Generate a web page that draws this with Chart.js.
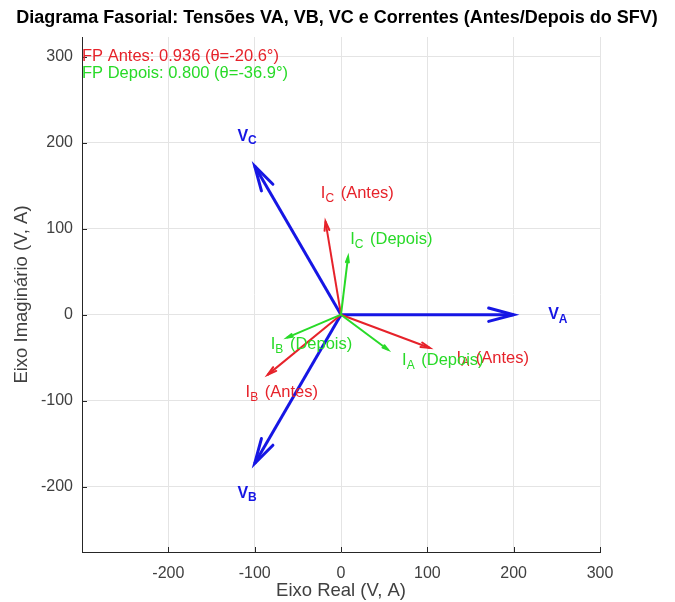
<!DOCTYPE html>
<html>
<head>
<meta charset="utf-8">
<script src="https://cdn.jsdelivr.net/npm/chart.js@4.4.0/dist/chart.umd.min.js"></script>
<style>
  html, body { margin: 0; padding: 0; background: #fff; }
  #wrap { width: 675px; height: 602px; }
</style>
</head>
<body>
<div id="wrap"><canvas id="chart" width="675" height="602"></canvas></div>
<script>
// phasor tips (real, imag)
const phases = ["A", "B", "C"];
const voltX = [200, -100, -100];
const voltY = [0, -173, 173];
const antesX = [103, -85, -18];
const antesY = [-38.7, -70, 108.5];
const depoisX = [54.4, -62.6, 8.2];
const depoisY = [-40.8, -26.7, 67.5];

const xTicks = [-200, -100, 0, 100, 200, 300];
const yTicks = [-200, -100, 0, 100, 200, 300];

const titleText = "Diagrama Fasorial: Tensões VA, VB, VC e Correntes (Antes/Depois do SFV)";
const fpAntes = "FP Antes: 0.936 (θ=-20.6°)";
const fpDepois = "FP Depois: 0.800 (θ=-36.9°)";

const RED = "rgb(230,34,42)";
const GREEN = "rgb(40,218,40)";
const BLUE = "rgb(22,22,228)";
const FONT = "'Liberation Sans', Arial, sans-serif";

// ----------------- Datasets -----------------
const groups = [
  { xs: voltX, ys: voltY, color: BLUE, width: 3, head: 0.15, order: 3, kind: "V", suffix: "", factor: 1.2 },
  { xs: antesX, ys: antesY, color: RED, width: 2, head: 0.1, order: 2, kind: "I", suffix: " (Antes)", factor: 1.3 },
  { xs: depoisX, ys: depoisY, color: GREEN, width: 2, head: 0.1, order: 1, kind: "I", suffix: " (Depois)", factor: 1.3 }
];

const datasets = [];
groups.forEach(g => {
  phases.forEach((p, i) => {
    datasets.push({
      data: [{ x: 0, y: 0 }, { x: g.xs[i], y: g.ys[i] }],
      showLine: true,
      borderColor: g.color,
      borderWidth: g.width,
      pointRadius: 0,
      order: g.order,
      group: g,
      phase: p
    });
  });
});

// ----------------- Plugins -----------------
const arrowHeads = {
  id: "arrowHeads",
  afterDatasetsDraw(chart) {
    const ctx = chart.ctx;
    chart.data.datasets.forEach((ds, i) => {
      const meta = chart.getDatasetMeta(i);
      const a = meta.data[0], b = meta.data[1];
      const dx = b.x - a.x, dy = b.y - a.y;
      const len = Math.hypot(dx, dy);
      const hl = len * ds.group.head;
      const ang = Math.atan2(dy, dx);
      const spread = 0.26;
      ctx.save();
      ctx.strokeStyle = ds.borderColor;
      ctx.lineWidth = ds.borderWidth;
      ctx.lineCap = "round";
      ctx.beginPath();
      ctx.moveTo(b.x - hl * Math.cos(ang - spread), b.y - hl * Math.sin(ang - spread));
      ctx.lineTo(b.x, b.y);
      ctx.lineTo(b.x - hl * Math.cos(ang + spread), b.y - hl * Math.sin(ang + spread));
      ctx.stroke();
      ctx.restore();
    });
  }
};

function drawSubText(ctx, x, y, main, sub, rest, size, bold, color) {
  const w = bold ? "bold " : "";
  ctx.fillStyle = color;
  ctx.textBaseline = "middle";
  ctx.textAlign = "left";
  ctx.font = w + size + "px " + FONT;
  ctx.fillText(main, x, y);
  let cx = x + ctx.measureText(main).width;
  const ss = Math.round(size * 0.72);
  ctx.font = w + ss + "px " + FONT;
  ctx.fillText(sub, cx, y + size * 0.3);
  cx += ctx.measureText(sub).width;
  if (rest) {
    ctx.font = w + size + "px " + FONT;
    ctx.fillText(rest, cx + 2, y);
  }
}

const labelsPlugin = {
  id: "labelsPlugin",
  afterDraw(chart) {
    const ctx = chart.ctx;
    const xs = chart.scales.x, ys = chart.scales.y;
    ctx.save();
    // title
    ctx.font = "bold 18px " + FONT;
    ctx.fillStyle = "#000";
    ctx.textAlign = "center";
    ctx.textBaseline = "middle";
    ctx.fillText(titleText, 337, 18);

    // inward tick marks
    ctx.strokeStyle = "#262626";
    ctx.lineWidth = 1;
    ctx.beginPath();
    xTicks.forEach(v => {
      const px = Math.round(xs.getPixelForValue(v)) + 0.5;
      ctx.moveTo(px, ys.bottom);
      ctx.lineTo(px, ys.bottom - 5);
    });
    yTicks.forEach(v => {
      const py = Math.round(ys.getPixelForValue(v)) + 0.5;
      ctx.moveTo(xs.left, py);
      ctx.lineTo(xs.left + 5, py);
    });
    ctx.stroke();

    // vector labels
    groups.forEach(g => {
      phases.forEach((p, i) => {
        const px = xs.getPixelForValue(g.xs[i] * g.factor);
        const py = ys.getPixelForValue(g.ys[i] * g.factor);
        if (g.kind === "V") drawSubText(ctx, px, py, "V", p, "", 16, true, g.color);
        else drawSubText(ctx, px, py, "I", p, g.suffix, 16.5, false, g.color);
      });
    });

    // power factor notes
    ctx.textAlign = "left";
    ctx.textBaseline = "middle";
    ctx.font = "16.5px " + FONT;
    ctx.fillStyle = RED;
    ctx.fillText(fpAntes, xs.getPixelForValue(-300), ys.getPixelForValue(300));
    ctx.fillStyle = GREEN;
    ctx.fillText(fpDepois, xs.getPixelForValue(-300), ys.getPixelForValue(281));
    ctx.restore();
  }
};

// ----------------- Chart -----------------
new Chart(document.getElementById("chart"), {
  type: "scatter",
  data: { datasets },
  options: {
    responsive: false,
    animation: false,
    layout: { padding: { left: 0, right: 75, top: 37, bottom: 0 } },
    plugins: { legend: { display: false }, title: { display: false }, tooltip: { enabled: false } },
    scales: {
      x: {
        type: "linear",
        min: -300,
        max: 300,
        afterBuildTicks: s => { s.ticks = xTicks.map(v => ({ value: v })); },
        afterFit: s => { s.height = 50; },
        grid: { color: "#e4e4e4", drawTicks: false },
        border: { display: true, color: "#262626", width: 1 },
        ticks: { color: "#404040", font: { family: FONT, size: 16 }, padding: 12 },
        title: { display: true, text: "Eixo Real (V, A)", color: "#404040", font: { family: FONT, size: 18.5 }, padding: 0 }
      },
      y: {
        type: "linear",
        min: -276,
        max: 323,
        afterBuildTicks: s => { s.ticks = yTicks.map(v => ({ value: v })); },
        afterFit: s => { s.width = 82; },
        grid: { color: "#e4e4e4", drawTicks: false },
        border: { display: true, color: "#262626", width: 1 },
        ticks: { color: "#404040", font: { family: FONT, size: 16 }, padding: 9 },
        title: { display: true, text: "Eixo Imaginário (V, A)", color: "#404040", font: { family: FONT, size: 18.5 }, padding: { top: 11, bottom: 0 } }
      }
    }
  },
  plugins: [arrowHeads, labelsPlugin]
});
</script>
</body>
</html>
